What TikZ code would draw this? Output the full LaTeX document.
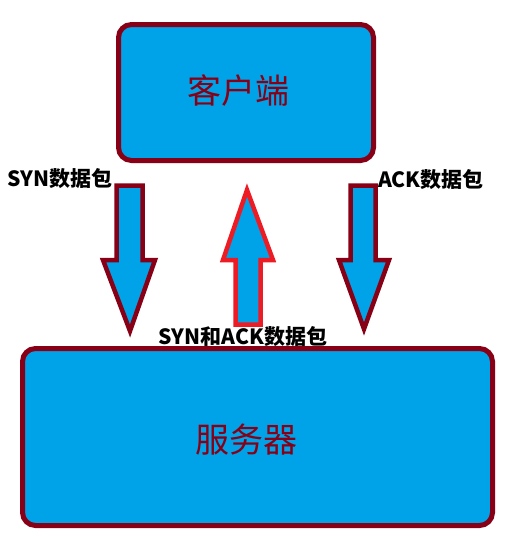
\documentclass[tikz,border=0pt]{standalone}
\usepackage{fontspec}
\newfontfamily\cjk{Noto Sans CJK SC}
\usetikzlibrary{positioning}
\definecolor{boxred}{RGB}{136,0,21}
\definecolor{boxblue}{RGB}{0,162,232}
\definecolor{uparrow}{RGB}{237,28,36}
\tikzstyle{host} = [rectangle, rounded corners=13pt, draw=boxred, line width=5pt, fill=boxblue]
\tikzstyle{hostname} = [text=boxred, font=\cjk\fontsize{34}{38}\selectfont, inner sep=0pt]
\tikzstyle{blockarrow} = [draw=boxred, line width=4.5pt, fill=boxblue, line join=miter]
\tikzstyle{label} = [font=\cjk\bfseries\fontsize{21}{24}\selectfont, inner sep=0pt]

\begin{document}
\begin{tikzpicture}[x=1pt,y=-1pt]
\useasboundingbox (0,0) rectangle (507,536);
% hosts
\node [host, minimum width=255pt, minimum height=136pt] (client) at (246,92.5) {};
\node [host, minimum width=470pt, minimum height=177pt] (server) at (257.5,437) {};
\node [hostname] (clientname) at ([xshift=-7.5pt,yshift=1.5pt]client.center) {客户端};
\node [hostname] (servername) at ([xshift=-11.5pt,yshift=-3pt]server.center) {服务器};
% packets
\draw [blockarrow] (116.5,185.5) -- (142.5,185.5) -- (142.5,260) -- (155,260) -- (130,331) -- (103,260) -- (116.5,260) -- cycle;
\draw [blockarrow, draw=uparrow] (235.5,324.5) -- (260.5,324.5) -- (260.5,260) -- (273,260) -- (247,190) -- (223,260) -- (235.5,260) -- cycle;
\draw [blockarrow] (350.5,185.5) -- (375.5,185.5) -- (375.5,260) -- (389,260) -- (364,329) -- (339,260) -- (350.5,260) -- cycle;
\node [label] (syn) at (60,179) {SYN数据包};
\node [label] (ack) at (431,180) {ACK数据包};
\node [label] (synack) at (243,337) {SYN和ACK数据包};
\end{tikzpicture}
\end{document}
